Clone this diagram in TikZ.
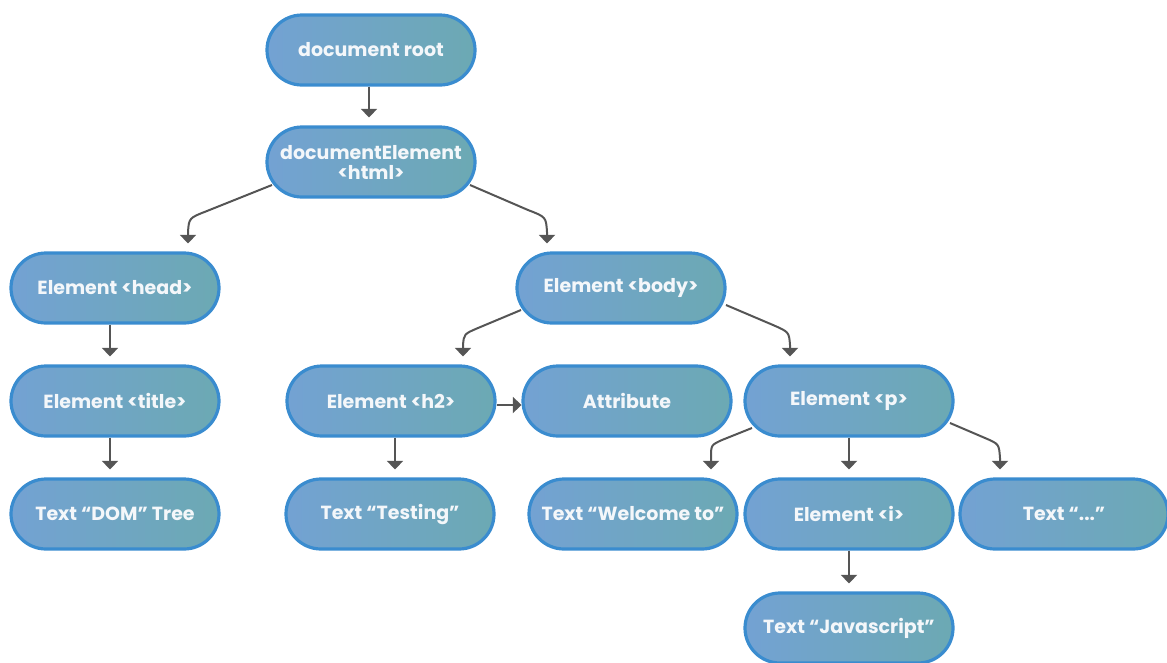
\documentclass[tikz,border=0pt]{standalone}
\usepackage{fontspec}
\setmainfont{Poppins}
\usetikzlibrary{arrows.meta}
\definecolor{bordercol}{HTML}{3A8CCF}
\definecolor{leftfill}{HTML}{73A2D3}
\definecolor{rightfill}{HTML}{6CA9B3}
\definecolor{arrowcol}{HTML}{555555}
\definecolor{txtcol}{HTML}{F4F7FA}
\tikzset{
  domnode/.style={rectangle, rounded corners=35pt, minimum width=208pt, minimum height=70pt,
    draw=bordercol, line width=3.2pt, left color=leftfill, right color=rightfill,
    text=txtcol, font=\fontsize{19}{21}\selectfont\bfseries, align=center, inner sep=0pt},
  conn/.style={draw=arrowcol, line width=2pt, -{Triangle[width=16pt,length=8.5pt]}}
}
\begin{document}
\begin{tikzpicture}[x=1pt,y=-1pt]
\useasboundingbox (0,0) rectangle (1167,662);
\node[domnode] (root) at (371,50) {document root};
\node[domnode] (de) at (371,162) {documentElement\\[-1pt]<html>};
\node[domnode] (head) at (115,288) {Element <head>};
\node[domnode] (body) at (621,288) {Element <body>};
\node[domnode] (title) at (115,401) {Element <title>};
\node[domnode] (h2) at (391,401) {Element <h2>};
\node[domnode] (attr) at (627,401) {Attribute};
\node[domnode] (p) at (849,401) {Element <p>};
\node[domnode] (dom) at (115,514) {Text “DOM” Tree};
\node[domnode] (testing) at (390,514) {Text “Testing”};
\node[domnode] (welcome) at (633,514) {Text “Welcome to”};
\node[domnode] (i) at (849,514) {Element <i>};
\node[domnode] (dots) at (1064,514) {Text “...”};
\node[domnode] (js) at (849,628) {Text “Javascript”};

\draw[conn] ([xshift=-2pt]root.south) -- ([xshift=-2pt,yshift=8pt]de.north);
\draw[conn] ([shift={(-99pt,-23pt)}]de.center) -- ([shift={(-164pt,-49pt)}]de.center)
  .. controls ([shift={(-182pt,-56pt)}]de.center) .. ([shift={(-183pt,-70pt)}]de.center)
  -- ([shift={(73pt,8pt)}]head.north);
\draw[conn] ([shift={(99pt,-23pt)}]de.center) -- ([shift={(157pt,-48pt)}]de.center)
  .. controls ([shift={(175pt,-55pt)}]de.center) .. ([shift={(176pt,-70pt)}]de.center)
  -- ([shift={(-74pt,8pt)}]body.north);
\draw[conn] ([xshift=-5pt]head.south) -- ([xshift=-5pt,yshift=8pt]title.north);
\draw[conn] ([shift={(-100pt,-22pt)}]body.center) -- ([shift={(-143pt,-40pt)}]body.center)
  .. controls ([shift={(-157pt,-46pt)}]body.center) .. ([shift={(-158pt,-57pt)}]body.center)
  -- ([shift={(72pt,8pt)}]h2.north);
\draw[conn] ([shift={(105pt,-17pt)}]body.center) -- ([shift={(152pt,-37pt)}]body.center)
  .. controls ([shift={(168pt,-44pt)}]body.center) .. ([shift={(169pt,-57pt)}]body.center)
  -- ([shift={(-59pt,8pt)}]p.north);
\draw[conn] ([yshift=-4pt]h2.east) -- ([yshift=-4pt]attr.west);
\draw[conn] ([xshift=-5pt]title.south) -- ([xshift=-5pt,yshift=8pt]dom.north);
\draw[conn] ([xshift=4pt]h2.south) -- ([xshift=5pt,yshift=8pt]testing.north);
\draw[conn] ([shift={(-97pt,-27pt)}]p.center) -- ([shift={(-127pt,-39pt)}]p.center)
  .. controls ([shift={(-138pt,-44pt)}]p.center) .. ([shift={(-138pt,-57pt)}]p.center)
  -- ([shift={(78pt,8pt)}]welcome.north);
\draw[conn] (p.south) -- ([yshift=8pt]i.north);
\draw[conn] ([shift={(101pt,-22pt)}]p.center) -- ([shift={(136pt,-37pt)}]p.center)
  .. controls ([shift={(150pt,-43pt)}]p.center) .. ([shift={(151pt,-57pt)}]p.center)
  -- ([shift={(-64pt,8pt)}]dots.north);
\draw[conn] (i.south) -- ([yshift=8pt]js.north);
\end{tikzpicture}
\end{document}
